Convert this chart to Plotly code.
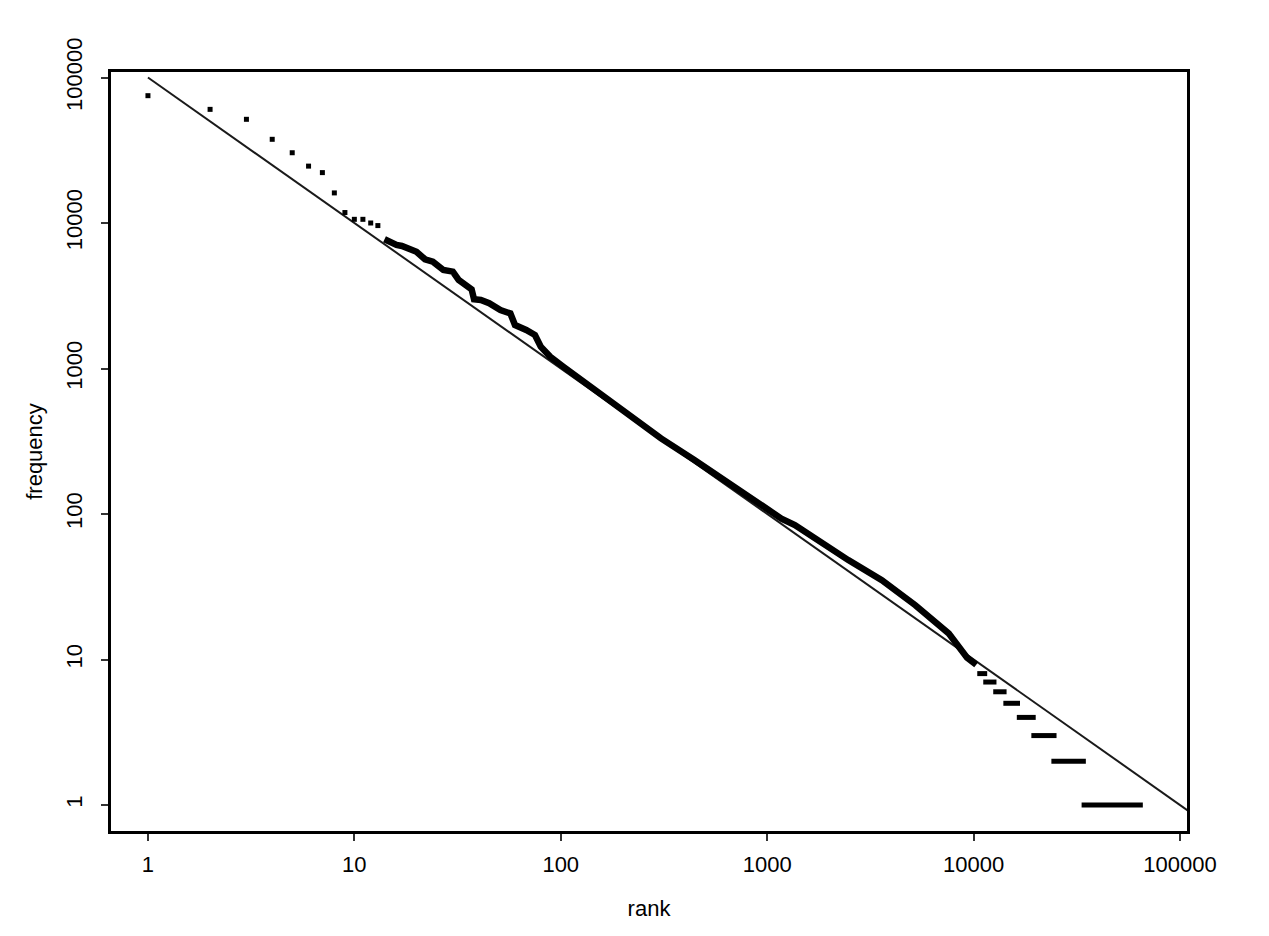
import plotly.graph_objects as go

# ---- data (rank vs word frequency, log-log) ----
# individual top-ranked words
top_rank = [1, 2, 3, 4, 5, 6, 7, 8, 9, 10, 11, 12, 13]
top_freq = [75000, 60400, 51600, 37600, 30400, 24600, 22200, 16100, 11800, 10600, 10600, 10000, 9600]

# dense middle part of the curve
mid_rank = [14, 15, 16, 17, 20, 22, 24, 27, 30, 32, 35, 37, 38, 41, 45, 51, 57, 60, 68, 75, 80, 89,
            103, 120, 136, 145, 211, 306, 444, 645, 937, 1172, 1362, 1750, 2473, 3594, 5222, 7586,
            9300, 10300]
mid_freq = [7730, 7330, 7060, 6950, 6350, 5630, 5420, 4750, 4630, 4060, 3750, 3500, 2990, 2960, 2810,
            2520, 2390, 1990, 1840, 1700, 1413, 1205, 1028, 879, 750, 708, 479, 331, 235, 163, 115,
            93, 84, 66, 48.2, 35.1, 23.6, 15.1, 10.3, 9.2]

# low-frequency tail: runs of equal frequency
tail_freq = [8, 7, 6, 5, 4, 3, 2, 1]
tail_rank_start = [10420, 11140, 12450, 13940, 16200, 19050, 23820, 33370]
tail_rank_end = [11640, 12910, 14450, 16790, 20000, 25230, 34990, 66070]

# fitted Zipf line
fit_rank = [1, 115000]
fit_freq = [100000, 0.87]

tick_vals = [1, 10, 100, 1000, 10000, 100000]
tick_text = ["1", "10", "100", "1000", "10000", "100000"]

FONT = "Liberation Sans, Arial, Helvetica, sans-serif"

tail_x, tail_y = [], []
for f, s, e in zip(tail_freq, tail_rank_start, tail_rank_end):
    tail_x += [s, e, None]
    tail_y += [f, f, None]

fig = go.Figure()
fig.add_trace(go.Scatter(x=fit_rank, y=fit_freq, mode="lines",
                         line=dict(color="#1a1a1a", width=2), showlegend=False))
fig.add_trace(go.Scatter(x=top_rank, y=top_freq, mode="markers",
                         marker=dict(symbol="square", size=5, color="black", line=dict(width=0)),
                         showlegend=False))
fig.add_trace(go.Scatter(x=mid_rank, y=mid_freq, mode="lines",
                         line=dict(color="black", width=6.5), showlegend=False))
fig.add_trace(go.Scatter(x=tail_x, y=tail_y, mode="lines",
                         line=dict(color="black", width=5), showlegend=False))

axis_common = dict(
    type="log", showgrid=False, zeroline=False,
    showline=True, mirror=True, linecolor="black", linewidth=2.5,
    ticks="outside", ticklen=7, tickwidth=2, tickcolor="#333333",
    tickvals=tick_vals, ticktext=tick_text,
    tickfont=dict(family=FONT, size=22, color="black"),
)

fig.update_layout(
    width=1269, height=936,
    margin=dict(l=111, r=82, t=72, b=105),
    paper_bgcolor="white", plot_bgcolor="white",
    xaxis=dict(axis_common, range=[-0.179, 5.034], ticklabelstandoff=5,
               title=dict(text="rank", font=dict(family=FONT, size=22, color="black"), standoff=25)),
    yaxis=dict(axis_common, range=[-0.1787, 5.0378], tickangle=-90, ticklabelstandoff=10,
               title=dict(text="frequency", font=dict(family=FONT, size=22, color="black"), standoff=14)),
)

fig.write_html("out.html", config={"displayModeBar": False},
               post_script="document.body.style.margin='0';")
